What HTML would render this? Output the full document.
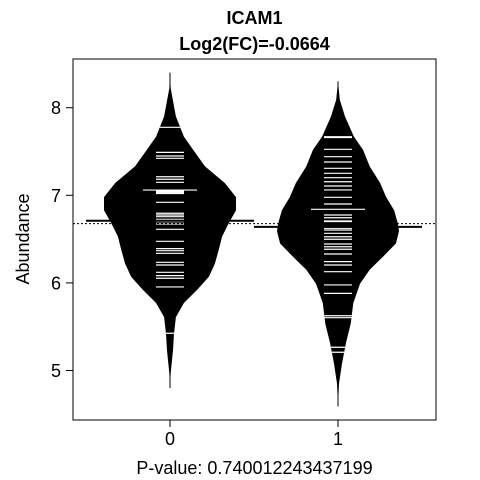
<!DOCTYPE html>
<html><head><meta charset="utf-8"><style>
body{margin:0;background:#fff;}
svg{display:block;font-family:"Liberation Sans",Arial,sans-serif;}
</style></head><body>
<svg id="chart" width="480" height="480">
<text x="254.5" y="24" text-anchor="middle" font-size="18" font-weight="bold">ICAM1</text>
<text x="254.5" y="50" text-anchor="middle" font-size="18" font-weight="bold">Log2(FC)=-0.0664</text>
<text transform="translate(29,239) rotate(-90)" text-anchor="middle" font-size="18">Abundance</text>
<text x="254.5" y="474" text-anchor="middle" font-size="18">P-value: 0.740012243437199</text>
<g id="plot"></g>
</svg>
<script>
const categories = ["0", "1"];
const yTicks = [5, 6, 7, 8];
const overallMean = 6.676;
const beanCenters = [6.71, 6.64];
const beanMeans = [7.06, 6.84];
const profileValues0 = [8.40,8.22,7.90,7.67,7.52,7.33,7.14,6.98,6.83,6.68,6.53,6.38,6.22,6.07,5.92,5.77,5.61,5.42,5.23,4.97,4.80];
const profileDensity0 = [0,0.01,0.09,0.21,0.35,0.53,0.83,1,1,0.89,0.79,0.74,0.68,0.59,0.41,0.21,0.09,0.06,0.045,0.01,0];
const profileValues1 = [8.30,8.09,7.90,7.67,7.52,7.33,7.14,6.98,6.83,6.68,6.59,6.45,6.30,6.15,5.99,5.77,5.54,5.31,5.08,4.85,4.59];
const profileDensity1 = [0,0.03,0.115,0.26,0.41,0.52,0.69,0.79,0.92,0.98,1,0.95,0.74,0.52,0.36,0.25,0.21,0.13,0.065,0.016,0];
const points0 = [7.776,7.49,7.449,7.422,7.212,7.183,7.148,7.06,7.05,7.04,7.03,7.02,6.92,6.795,6.775,6.756,6.726,6.699,6.672,6.612,6.475,6.391,6.368,6.338,6.235,6.204,6.121,6.083,6.053,5.954,5.425];
const points1 = [7.669,7.66,7.525,7.441,7.38,7.308,7.251,7.201,7.155,7.106,7.061,6.977,6.901,6.775,6.744,6.707,6.70,6.623,6.604,6.566,6.527,6.498,6.444,6.413,6.384,6.33,6.243,6.204,6.128,5.977,5.88,5.625,5.603,5.265,5.208];

const L=73,R=436,T=59,B=420;
const yScale=v=>195.3-(v-7)*87.6;
const xScale=i=>170+i*168;
const NS="http://www.w3.org/2000/svg";
const g=document.getElementById('plot');
function mk(t,a){const e=document.createElementNS(NS,t);for(const k in a)e.setAttribute(k,a[k]);g.appendChild(e);return e;}
const maxHalf=[66,61];
const profiles=[[profileValues0,profileDensity0],[profileValues1,profileDensity1]];
const pts=[points0,points1];
const defs=mk('defs',{});
categories.forEach((c,i)=>{
  const cx=xScale(i);const [vals,dens]=profiles[i];
  let d='';
  vals.forEach((v,k)=>{d+=(k?'L':'M')+(cx+dens[k]*maxHalf[i]).toFixed(1)+','+yScale(v).toFixed(1);});
  for(let k=vals.length-1;k>=0;k--)d+='L'+(cx-dens[k]*maxHalf[i]).toFixed(1)+','+yScale(vals[k]).toFixed(1);
  d+='Z';
  const cp=document.createElementNS(NS,'clipPath');cp.setAttribute('id','clip'+i);
  const pp=document.createElementNS(NS,'path');pp.setAttribute('d',d);cp.appendChild(pp);defs.appendChild(cp);
  const bean=mk('path',{d:d,fill:'#000'});
  
  
  const stem=mk('line',{x1:cx,x2:cx,y1:yScale(vals[0]),y2:yScale(vals[vals.length-1]),stroke:'#000','stroke-width':1});
  
  
  pts[i].forEach(v=>{
    const y=yScale(v);
    const wl=mk('line',{x1:cx-14,x2:cx+14,y1:y,y2:y,stroke:'#fff','stroke-width':1.2,'clip-path':'url(#clip'+i+')'});
    
    
  });
  const my=yScale(beanMeans[i]);
  const ml=mk('line',{x1:cx-27,x2:cx+27,y1:my,y2:my,stroke:'#000','stroke-width':1});
  
  
  const mw=mk('line',{x1:cx-27,x2:cx+27,y1:my,y2:my,stroke:'#fff','stroke-width':1.2,'clip-path':'url(#clip'+i+')'});
  
  
  const cy=yScale(beanCenters[i]);
  const cl=mk('line',{x1:cx-84,x2:cx+84,y1:cy,y2:cy,stroke:'#000','stroke-width':2});
  
  
  const xt=mk('line',{x1:cx,x2:cx,y1:B,y2:B+7,stroke:'#000'});
  
  
  const xl=mk('text',{x:cx,y:445,'text-anchor':'middle','font-size':18});
  xl.textContent=c;
  
  
});
const oy=yScale(overallMean);
const ol=mk('line',{x1:L,x2:R,y1:oy,y2:oy,stroke:'#000','stroke-width':1,'stroke-dasharray':'2,2'});


yTicks.forEach(t=>{
  const y=yScale(t);
  const tk=mk('line',{x1:L-7,x2:L,y1:y,y2:y,stroke:'#000'});
  
  
  const tl=mk('text',{x:61,y:y+6.5,'text-anchor':'end','font-size':18});
  tl.textContent=t;
  
  
});
const frame=mk('rect',{x:L,y:T,width:R-L,height:B-T,fill:'none',stroke:'#000','stroke-width':1});


</script>
</body></html>
